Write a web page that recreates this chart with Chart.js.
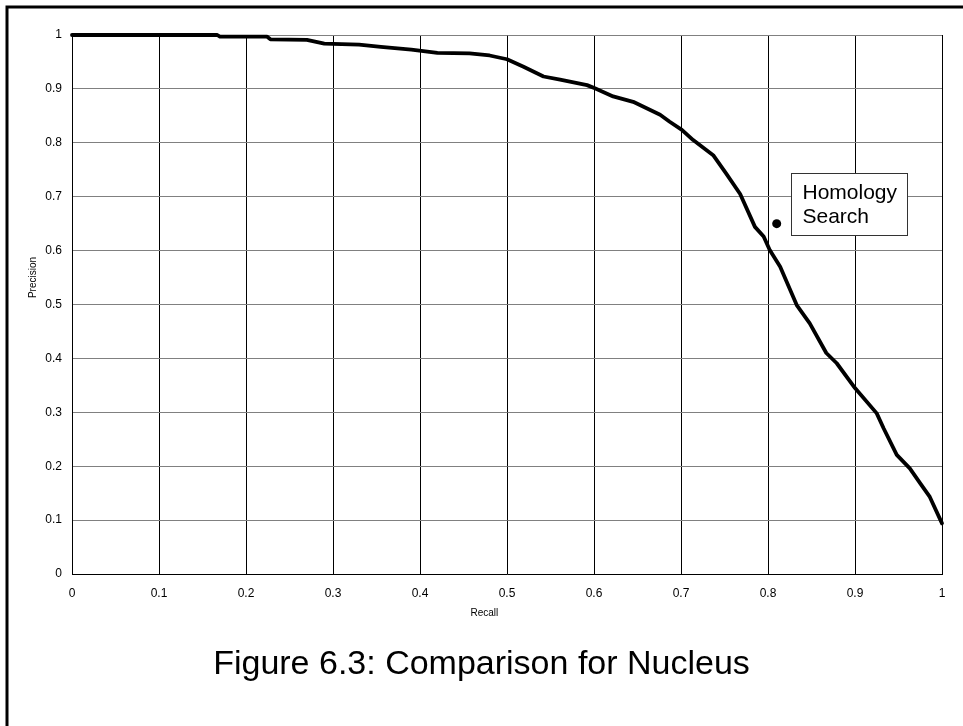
<!DOCTYPE html>
<html>
<head>
<meta charset="utf-8">
<script src="https://cdn.jsdelivr.net/npm/chart.js@4/dist/chart.umd.min.js"></script>
<style>
  html, body { margin: 0; padding: 0; background: #fff; }
  #wrap { width: 963px; height: 726px; position: relative; }
</style>
</head>
<body>
<div id="wrap"><canvas id="chart" width="963" height="726"></canvas></div>
<script>
// Precision / recall curve for the Nucleus class
const recall = [
  0, 0.167, 0.170, 0.224, 0.228, 0.270, 0.290, 0.330, 0.355, 0.390,
  0.420, 0.457, 0.480, 0.500, 0.519, 0.542, 0.561, 0.592, 0.601, 0.622,
  0.645, 0.676, 0.687, 0.701, 0.714, 0.737, 0.752, 0.768, 0.785, 0.795,
  0.802, 0.814, 0.833, 0.848, 0.867, 0.879, 0.900, 0.925, 0.933, 0.948,
  0.963, 0.975, 0.986, 1.000
];
const precision = [
  1.000, 1.000, 0.997, 0.997, 0.992, 0.991, 0.984, 0.982, 0.978, 0.973,
  0.967, 0.966, 0.962, 0.955, 0.941, 0.923, 0.917, 0.907, 0.901, 0.886,
  0.876, 0.852, 0.839, 0.824, 0.805, 0.777, 0.743, 0.705, 0.644, 0.626,
  0.601, 0.570, 0.499, 0.465, 0.410, 0.391, 0.345, 0.298, 0.270, 0.221,
  0.196, 0.168, 0.143, 0.094
];

// Single operating point of the homology search baseline
const homologyRecall = [0.81];
const homologyPrecision = [0.65];
const homologyLabel = ['Homology', 'Search'];

const xTickLabels = ['0', '0.1', '0.2', '0.3', '0.4', '0.5', '0.6', '0.7', '0.8', '0.9', '1'];
const yTickLabels = ['0', '0.1', '0.2', '0.3', '0.4', '0.5', '0.6', '0.7', '0.8', '0.9', '1'];

const xAxisTitle = 'Recall';
const yAxisTitle = 'Precision';
const captionText = 'Figure 6.3: Comparison for Nucleus';
const FONT = '"Liberation Sans", Arial, Helvetica, sans-serif';

const curvePoints = recall.map((r, i) => ({ x: r, y: precision[i] }));
const homologyPoints = homologyRecall.map((r, i) => ({ x: r, y: homologyPrecision[i] }));

// Page frame, axis titles and the figure caption
const framePlugin = {
  id: 'frame',
  beforeDraw(chart) {
    const ctx = chart.ctx;
    ctx.save();
    ctx.fillStyle = '#fff';
    ctx.fillRect(0, 0, chart.width, chart.height);
    ctx.strokeStyle = '#000';
    ctx.lineWidth = 3;
    ctx.beginPath();
    ctx.moveTo(7, chart.height + 5);
    ctx.lineTo(7, 7);
    ctx.lineTo(chart.width + 5, 7);
    ctx.stroke();
    ctx.restore();
  },
  afterDraw(chart) {
    const ctx = chart.ctx;
    const area = chart.chartArea;
    ctx.save();
    ctx.fillStyle = '#000';
    ctx.textAlign = 'center';
    ctx.textBaseline = 'middle';

    ctx.font = '10px ' + FONT;
    ctx.fillText(xAxisTitle, area.left + (area.right - area.left) * 0.474, area.bottom + 39);
    ctx.save();
    ctx.translate(33, area.top + (area.bottom - area.top) * 0.45);
    ctx.rotate(-Math.PI / 2);
    ctx.fillText(yAxisTitle, 0, 0);
    ctx.restore();

    ctx.font = '34px ' + FONT;
    ctx.fillText(captionText, chart.width / 2, area.bottom + 91);
    ctx.restore();
  }
};

// Callout box next to the homology search point
const calloutPlugin = {
  id: 'callout',
  afterDatasetsDraw(chart) {
    const meta = chart.getDatasetMeta(1);
    const pt = meta.data[0];
    if (!pt) return;
    const ctx = chart.ctx;
    const bx = Math.round(pt.x) + 14.5, by = Math.round(pt.y) - 50.5;
    ctx.save();
    ctx.fillStyle = '#fff';
    ctx.fillRect(bx, by, 116, 62);
    ctx.strokeStyle = '#333';
    ctx.lineWidth = 1;
    ctx.strokeRect(bx, by, 116, 62);
    ctx.fillStyle = '#000';
    ctx.font = '21px ' + FONT;
    ctx.textAlign = 'left';
    ctx.textBaseline = 'middle';
    ctx.fillText(homologyLabel[0], bx + 11, by + 20);
    ctx.fillText(homologyLabel[1], bx + 11, by + 44);
    ctx.restore();
  }
};

new Chart(document.getElementById('chart'), {
  type: 'scatter',
  data: {
    datasets: [
      {
        label: 'Nucleus',
        data: curvePoints,
        showLine: true,
        borderColor: '#000',
        backgroundColor: '#000',
        borderWidth: 3.8,
        pointRadius: 0,
        pointHoverRadius: 0,
        tension: 0,
        borderJoinStyle: 'round',
        borderCapStyle: 'round',
        clip: false
      },
      {
        label: 'Homology Search',
        data: homologyPoints,
        showLine: false,
        pointRadius: 4.5,
        pointBackgroundColor: '#000',
        pointBorderColor: '#000',
        pointBorderWidth: 0
      }
    ]
  },
  options: {
    responsive: false,
    animation: false,
    devicePixelRatio: 1,
    layout: { padding: { top: 35, right: 21, left: 0, bottom: 0 } },
    plugins: {
      legend: { display: false },
      tooltip: { enabled: false },
      title: { display: false }
    },
    scales: {
      x: {
        type: 'linear',
        min: 0,
        max: 1,
        afterFit(scale) { scale.height = 152; },
        afterBuildTicks(scale) {
          scale.ticks = xTickLabels.map(v => ({ value: parseFloat(v) }));
        },
        ticks: {
          color: '#000',
          font: { family: FONT, size: 12 },
          padding: 12,
          maxRotation: 0,
          autoSkip: false,
          callback: (v, i) => xTickLabels[i]
        },
        grid: { color: '#000', lineWidth: 1, drawTicks: false },
        border: { display: true, color: '#000', width: 1 }
      },
      y: {
        type: 'linear',
        min: 0,
        max: 1,
        afterFit(scale) { scale.width = 72; },
        afterBuildTicks(scale) {
          scale.ticks = yTickLabels.map(v => ({ value: parseFloat(v) }));
        },
        ticks: {
          color: '#000',
          font: { family: FONT, size: 12 },
          padding: 10,
          autoSkip: false,
          callback: (v, i) => yTickLabels[i]
        },
        grid: { color: '#808080', lineWidth: 1, drawTicks: false },
        border: { display: true, color: '#000', width: 1 }
      }
    }
  },
  plugins: [framePlugin, calloutPlugin]
});
</script>
</body>
</html>
